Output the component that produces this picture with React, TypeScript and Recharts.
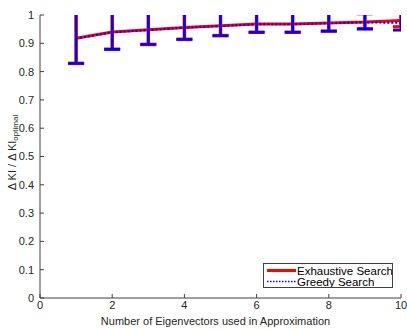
import React from 'react';
import { LineChart, Line, XAxis, YAxis, ErrorBar, Legend } from 'recharts';

const xValues = [1, 2, 3, 4, 5, 6, 7, 8, 9, 10];
const exhaustiveMean = [0.918, 0.94, 0.948, 0.956, 0.962, 0.968, 0.968, 0.972, 0.975, 0.981];
const exhaustiveErrLow = [0.089, 0.061, 0.052, 0.042, 0.035, 0.029, 0.029, 0.029, 0.024, 0.023];
const exhaustiveErrHigh = [0.09, 0.07, 0.06, 0.05, 0.045, 0.04, 0.04, 0.035, 0.03, 0.03];
const greedyMean = [0.917, 0.939, 0.947, 0.955, 0.961, 0.967, 0.967, 0.971, 0.974, 0.972];
const greedyErrLow = [0.088, 0.06, 0.051, 0.041, 0.034, 0.028, 0.028, 0.028, 0.023, 0.026];
const greedyErrHigh = [0.09, 0.07, 0.06, 0.05, 0.045, 0.04, 0.04, 0.035, 0.035, 0.035];
const xTicks = [0, 2, 4, 6, 8, 10];
const yTicks = [0, 0.1, 0.2, 0.3, 0.4, 0.5, 0.6, 0.7, 0.8, 0.9, 1];

const data = xValues.map((x, i) => ({
  x,
  exhaustive: exhaustiveMean[i],
  exhaustiveErr: [exhaustiveErrLow[i], exhaustiveErrHigh[i]],
  greedy: greedyMean[i],
  greedyErr: [greedyErrLow[i], greedyErrHigh[i]],
}));

const FONT = '"Liberation Sans", Arial, Helvetica, sans-serif';
const TEXT = '#262626';
const AXIS = '#404040';

const tickStyle = { fontSize: 11, fill: TEXT, fontFamily: FONT };

const YLabel = (props: any) => {
  const vb = props.viewBox || {};
  const cx = 12;
  const cy = vb.y + vb.height / 2 - 4;
  return (
    <text
      x={cx}
      y={cy}
      transform={`rotate(-90, ${cx}, ${cy})`}
      textAnchor="middle"
      dominantBaseline="central"
      fontSize={11}
      fill={TEXT}
      fontFamily={FONT}
    >
      <tspan>Δ KI / Δ KI</tspan>
      <tspan fontSize={8} dy={3}>optimal</tspan>
    </text>
  );
};

const TitleLabel = (props: any) => {
  const vb = props.viewBox || {};
  return (
    <text x={vb.x + vb.width / 2} y={9.5} textAnchor="middle" fontSize={11} fontWeight="bold" fill="#000" fontFamily={FONT}>
      BA Preferential Attachment Model
    </text>
  );
};

const XLabel = (props: any) => {
  const vb = props.viewBox || {};
  return (
    <text x={vb.x + vb.width / 2 - 5} y={325} textAnchor="middle" fontSize={11} fill={TEXT} fontFamily={FONT}>
      Number of Eigenvectors used in Approximation
    </text>
  );
};

const LegendBox = () => (
  <div
    style={{
      width: 130,
      height: 25,
      border: `1px solid ${AXIS}`,
      background: '#fff',
      fontFamily: FONT,
      fontSize: 11,
      color: '#000',
      boxSizing: 'border-box',
      position: 'relative',
    }}
  >
    <svg width={128} height={23} style={{ position: 'absolute', left: 0, top: 0 }}>
      <line x1={3} x2={32} y1={6.5} y2={6.5} stroke="#ff0000" strokeWidth={3} />
      <line x1={3} x2={32} y1={17.5} y2={17.5} stroke="#0000ff" strokeWidth={1.5} strokeDasharray="1.5 1.5" />
      <text x={33} y={10.5} fontSize={11.5} fill="#000" fontFamily={FONT}>Exhaustive Search</text>
      <text x={33} y={21.5} fontSize={11.5} fill="#000" fontFamily={FONT}>Greedy Search</text>
    </svg>
  </div>
);

export default function App() {
  return (
    <div style={{ position: 'absolute', left: 0, top: 0, width: 407, height: 329, background: '#fff' }}>
      <style>{`.recharts-errorBars { clip-path: url(#plotAreaClip); }`}</style>
      <svg width={0} height={0} style={{ position: 'absolute' }}>
        <defs>
          <clipPath id="plotAreaClip" clipPathUnits="userSpaceOnUse">
            <rect x={40} y={15} width={361} height={284} />
          </clipPath>
        </defs>
      </svg>
      <LineChart width={407} height={329} data={data} margin={{ top: 15, right: 6, left: 0, bottom: 0 }}>
        <XAxis
          xAxisId="bottom"
          dataKey="x"
          type="number"
          domain={[0, 10]}
          ticks={xTicks}
          orientation="bottom"
          height={31}
          stroke={AXIS}
          tickSize={-4}
          tickMargin={7}
          tick={tickStyle}
          label={{ content: XLabel }}
        />
        <XAxis
          xAxisId="top"
          dataKey="x"
          type="number"
          domain={[0, 10]}
          ticks={xTicks}
          orientation="top"
          height={0}
          stroke={AXIS}
          tickSize={-4}
          tick={() => <g />}
          label={{ content: TitleLabel }}
        />
        <YAxis
          yAxisId="left"
          type="number"
          domain={[0, 1]}
          ticks={yTicks}
          allowDataOverflow
          width={40}
          stroke={AXIS}
          tickSize={-4}
          tickMargin={10}
          tick={tickStyle}
          tickFormatter={(v: number) => (v === 0 || v === 1 ? String(v) : v.toFixed(1))}
          label={{ content: YLabel }}
        />
        <YAxis
          yAxisId="right"
          orientation="right"
          type="number"
          domain={[0, 1]}
          ticks={yTicks}
          allowDataOverflow
          width={0}
          stroke={AXIS}
          tickSize={-4}
          tick={() => <g />}
        />
        <Legend
          layout="horizontal"
          verticalAlign="middle"
          align="center"
          content={LegendBox}
          wrapperStyle={{ position: 'absolute', left: 263, top: 263, width: 130, height: 25 }}
        />
        <Line
          xAxisId="bottom"
          yAxisId="left"
          dataKey="exhaustive"
          name="Exhaustive Search"
          stroke="#ff0000"
          strokeWidth={3}
          dot={false}
          isAnimationActive={false}
        >
          <ErrorBar dataKey="exhaustiveErr" direction="y" width={8} stroke="#ff0000" strokeWidth={3.5} />
        </Line>
        <Line
          xAxisId="bottom"
          yAxisId="left"
          dataKey="greedy"
          name="Greedy Search"
          stroke="#0000ff"
          strokeWidth={2}
          strokeDasharray="2 2"
          dot={false}
          isAnimationActive={false}
        >
          <ErrorBar dataKey="greedyErr" direction="y" width={8} stroke="#0000ff" strokeWidth={2.5} />
        </Line>
      </LineChart>
    </div>
  );
}
